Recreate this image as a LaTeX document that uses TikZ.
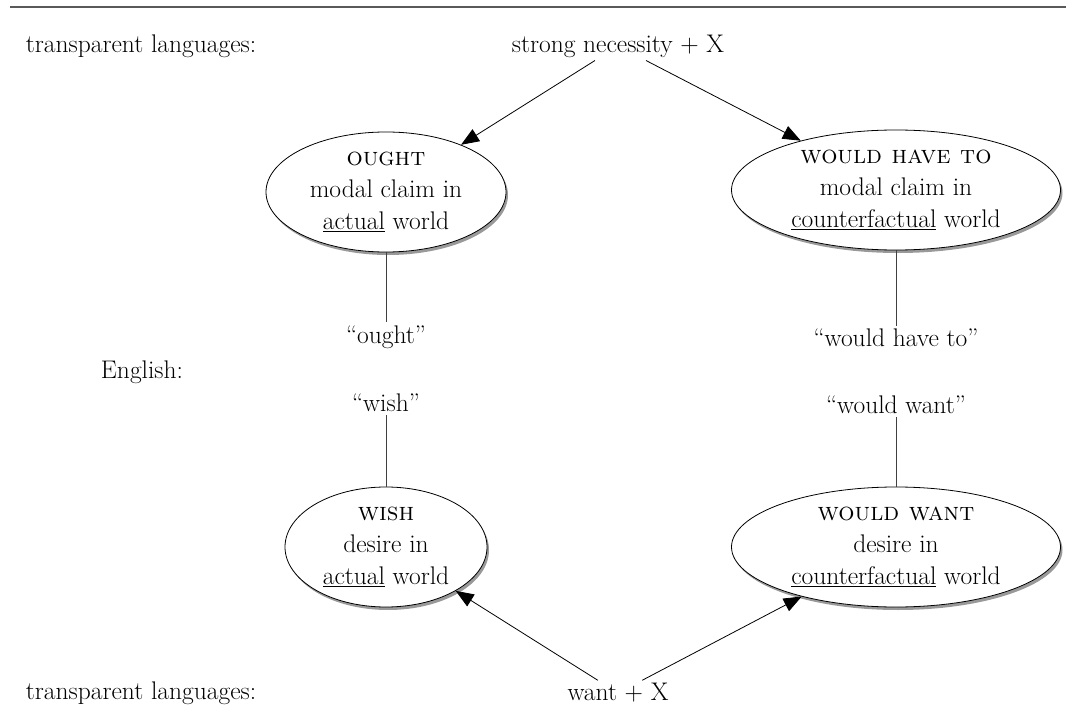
\documentclass[tikz,border=0pt]{standalone}
\usepackage{tikz}
\usetikzlibrary{arrows.meta}
\usetikzlibrary{shapes.geometric}
\usetikzlibrary{shadows}
\usetikzlibrary{positioning}

\begin{document}
\begin{tikzpicture}[x=1pt,y=-1pt,font=\fontsize{25.5}{32}\selectfont,
  every node/.style={inner sep=3pt},
  modal/.style={draw,line width=0.8pt,ellipse,fill=white,align=center,inner sep=0pt,minimum height=120pt,
    drop shadow={shadow xshift=2pt,shadow yshift=-3pt,fill=black!40,opacity=1}},
  arr/.style={-{Triangle[length=18pt,width=14pt]},line width=0.8pt},
  link/.style={line width=1pt,black!75}]
\useasboundingbox (0,0) rectangle (1072,706);
\draw[line width=1.5pt,black!65] (10,7) -- (1066,7);

\node (tl1) at (141,46) {transparent languages:};
\node (strong) at (618,46) {strong necessity + X};
\node[modal,minimum width=240pt] (ought) at (386,192) {\textsc{ought}\\modal claim in\\\underline{actual} world};
\node[modal,minimum width=329pt] (wht) at (896,190) {\textsc{would have to}\\modal claim in\\\underline{counterfactual} world};

\node (oughtw) at (386,337) {``ought''};
\node (whtw) at (896,338) {``would have to''};
\node (eng) at (142,372) {English:};
\node (wishw) at (386,403) {``wish''};
\node (wwantw) at (896,405) {``would want''};

\node[modal,minimum width=202pt] (wish) at (386,547) {\textsc{wish}\\desire in\\\underline{actual} world};
\node[modal,minimum width=329pt] (wwant) at (896,547) {\textsc{would want}\\desire in\\\underline{counterfactual} world};

\node (tl2) at (141,693) {transparent languages:};
\node (want) at (618,693) {want + X};

\draw[arr](strong)--(ought);
\draw[arr](strong)--(wht);
\draw[link](ought)--(oughtw);
\draw[link](wht)--(whtw);
\draw[link](wishw)--(wish);
\draw[link](wwantw)--(wwant);
\draw[arr](want)--(wish);
\draw[arr](want)--(wwant);
\end{tikzpicture}
\end{document}
